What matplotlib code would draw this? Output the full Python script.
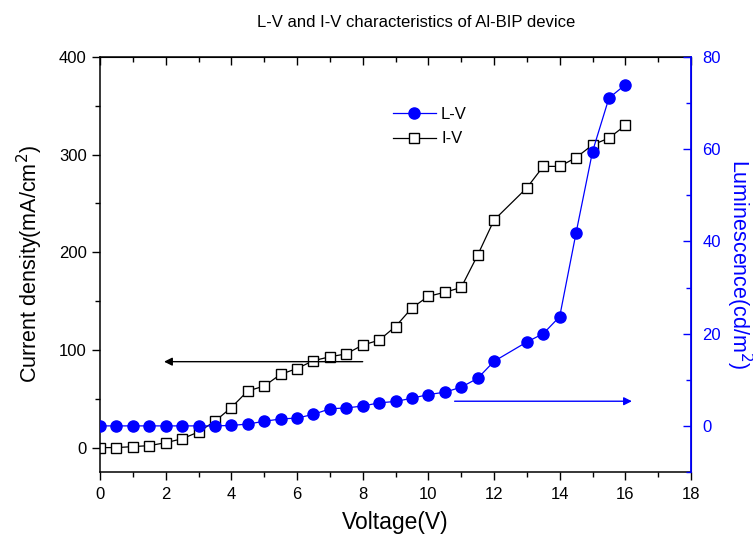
"""L-V and I-V characteristics of an Al-BIP device."""

import matplotlib

matplotlib.use("Agg")
import matplotlib.pyplot as plt
from matplotlib.ticker import MultipleLocator

plt.rcParams["font.family"] = ["Liberation Sans", "DejaVu Sans"]

# voltage steps (no reading at 12.5 V)
voltage = [0, 0.5, 1, 1.5, 2, 2.5, 3, 3.5, 4, 4.5, 5, 5.5, 6, 6.5, 7, 7.5,
           8, 8.5, 9, 9.5, 10, 10.5, 11, 11.5, 12, 13, 13.5, 14, 14.5, 15,
           15.5, 16]
current_density = [0, 0, 1, 2, 5, 9, 16, 27, 41, 58, 63, 75, 81, 89, 93, 96,
                   105, 110, 124, 143, 155, 159, 164, 197, 233, 266, 288, 288,
                   297, 310, 317, 330]
luminescence = [0, 0, 0, 0, 0, 0, 0, 0, 0.1, 0.4, 1.0, 1.5, 1.7, 2.5, 3.7,
                3.9, 4.3, 5.0, 5.3, 6.0, 6.8, 7.3, 8.4, 10.3, 14.0, 18.2, 20.0,
                23.7, 41.9, 59.5, 71.1, 74.0]

BLUE = "#0000ff"

fig = plt.figure(figsize=(7.53, 5.39), dpi=100)
ax = fig.add_axes([0.1328, 0.1243, 0.7849, 0.7699])
ax2 = ax.twinx()

iv, = ax.plot(voltage, current_density, color="black", lw=0.9, marker="s",
              ms=6.5, mfc="white", mec="black", mew=1.0, label="I-V")
lv, = ax2.plot(voltage, luminescence, color=BLUE, lw=0.9, marker="o",
               ms=8, mfc=BLUE, mec=BLUE, label="L-V")

ax.set_xlim(0, 18)
ax.set_ylim(-25, 400)
ax2.set_ylim(-10, 80)

ax.xaxis.set_major_locator(MultipleLocator(2))
ax.xaxis.set_minor_locator(MultipleLocator(1))
ax.yaxis.set_major_locator(MultipleLocator(100))
ax.yaxis.set_minor_locator(MultipleLocator(50))
ax2.yaxis.set_major_locator(MultipleLocator(20))
ax2.yaxis.set_minor_locator(MultipleLocator(10))

ax.tick_params(axis="x", which="both", direction="out", top=False,
               labelsize=12, pad=5)
ax.tick_params(axis="both", which="major", length=6, width=1)
ax.tick_params(axis="both", which="minor", length=3.5, width=1)
ax.tick_params(axis="y", which="both", direction="out", labelsize=12)
ax2.tick_params(axis="y", which="both", direction="in", colors=BLUE,
                labelsize=12, pad=8)
ax2.tick_params(axis="y", which="major", length=6, width=1)
ax2.tick_params(axis="y", which="minor", length=3.5, width=1)

# top ticks point inward, no labels
sec = ax.secondary_xaxis("top")
sec.xaxis.set_major_locator(MultipleLocator(2))
sec.xaxis.set_minor_locator(MultipleLocator(1))
sec.tick_params(axis="x", which="major", direction="in", length=6, width=1,
                labeltop=False)
sec.tick_params(axis="x", which="minor", direction="in", length=3.5, width=1)

for side in ("left", "bottom", "top"):
    ax.spines[side].set_linewidth(1.1)
ax2.spines["right"].set_color(BLUE)
ax2.spines["right"].set_linewidth(1.3)
ax2.spines["left"].set_visible(False)
ax2.spines["top"].set_visible(False)
ax2.spines["bottom"].set_visible(False)

ax.set_xlabel("Voltage(V)", fontsize=16.5, labelpad=6)
ax.set_ylabel("Current density(mA/cm$^2$)", fontsize=15.5, labelpad=10)
ax2.set_ylabel("Luminescence(cd/m$^2$)", fontsize=15.5, color=BLUE,
               rotation=270, labelpad=24)
fig.text(0.553, 0.958, "L-V and I-V characteristics of Al-BIP device",
         ha="center", va="center", fontsize=12)

# arrows pointing to the matching axis
ax.annotate("", xy=(1.95, 88), xytext=(8, 88),
            arrowprops=dict(arrowstyle="-|>", color="black", lw=1.0,
                            mutation_scale=12, shrinkA=0, shrinkB=0))
ax2.annotate("", xy=(16.2, 5.35), xytext=(10.8, 5.35),
             arrowprops=dict(arrowstyle="-|>", color=BLUE, lw=1.0,
                             mutation_scale=12, shrinkA=0, shrinkB=0))

ax2.legend(handles=[lv, iv], loc="upper left",
           bbox_to_anchor=(0.47, 0.915), frameon=False, fontsize=12,
           handlelength=2.6, handletextpad=0.3, labelspacing=0.55)

fig.savefig("out.png", dpi=100)
